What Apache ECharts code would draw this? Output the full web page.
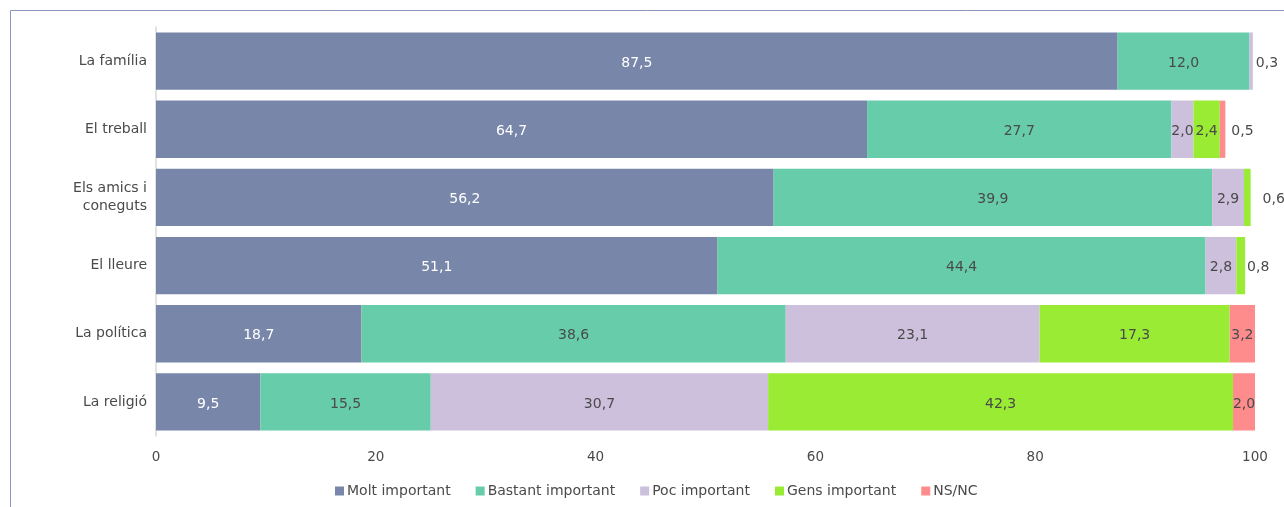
<!DOCTYPE html>
<html><head><meta charset="utf-8">
<script src="https://cdn.jsdelivr.net/npm/echarts@6/dist/echarts.min.js"></script>
<style>html,body{margin:0;padding:0;background:#fff}#c{width:1284px;height:507px}</style>
</head><body><div id="c"></div>
<script>
const categories = ['La família', 'El treball', 'Els amics i\nconeguts', 'El lleure', 'La política', 'La religió'];
const seriesNames = ['Molt important', 'Bastant important', 'Poc important', 'Gens important', 'NS/NC'];
const molt = [87.5, 64.7, 56.2, 51.1, 18.7, 9.5];
const bastant = [12.0, 27.7, 39.9, 44.4, 38.6, 15.5];
const poc = [0.3, 2.0, 2.9, 2.8, 23.1, 30.7];
const gens = [0, 2.4, 0.6, 0.8, 17.3, 42.3];
const nsnc = [0, 0.5, 0, 0, 3.2, 2.0];
const xTicks = [0, 20, 40, 60, 80, 100];

const colors = ['#7886AA', '#66CCAA', '#CCC0DD', '#99EB33', '#FF8C8C'];
const allValues = [molt, bastant, poc, gens, nsnc];
const FONT = 'DejaVu Sans';
const TEXT = '#4a4a4a';
const outsideGap = {'0,1': 0, '4,1': 6, '3,2': 12, '3,3': 2};

const series = allValues.map((vals, si) => ({
  name: seriesNames[si],
  type: 'bar',
  stack: 'total',
  barCategoryGap: '16%',
  itemStyle: {color: colors[si]},
  data: vals.map((v, ci) => {
    const item = {value: v};
    if (v > 0 && v < 1) {
      item.label = {position: 'right', distance: outsideGap[si + ',' + ci] !== undefined ? outsideGap[si + ',' + ci] : 3};
    }
    return item;
  }),
  label: {
    show: true,
    position: 'inside',
    offset: [0, 2],
    color: si === 0 ? '#ffffff' : TEXT,
    fontFamily: FONT,
    fontSize: 14,
    formatter: p => p.value > 0 ? p.value.toFixed(1).replace('.', ',') : ''
  }
}));

const chart = echarts.init(document.getElementById('c'), null, {renderer: 'canvas'});
chart.setOption({
  animation: false,
  textStyle: {fontFamily: FONT},
  graphic: [{type: 'rect', shape: {x: 10.5, y: 10.5, width: 1400, height: 600}, style: {fill: 'none', stroke: '#8A96BE', lineWidth: 1}, silent: true}],
  grid: {left: 156, right: 29, top: 27, bottom: 71, containLabel: false},
  xAxis: {
    type: 'value', min: 0, max: 100, interval: 20,
    axisLine: {show: false}, axisTick: {show: false}, splitLine: {show: false},
    axisLabel: {color: TEXT, fontSize: 13.5, fontFamily: FONT, margin: 14}
  },
  yAxis: {
    type: 'category', data: categories, inverse: true,
    axisLine: {show: true, lineStyle: {color: '#D9D9D9', width: 1.5}},
    axisTick: {show: false},
    axisLabel: {color: TEXT, fontSize: 14, fontFamily: FONT, margin: 9, align: 'right', lineHeight: 18, padding: [6, 0, 0, 0]}
  },
  legend: {
    data: seriesNames, bottom: 4, left: 330, itemWidth: 9, itemHeight: 9, itemGap: 25,
    icon: 'rect', textStyle: {color: TEXT, fontSize: 14, fontFamily: FONT, padding: [0, 0, 0, -2]}
  },
  series: series
});
</script></body></html>
